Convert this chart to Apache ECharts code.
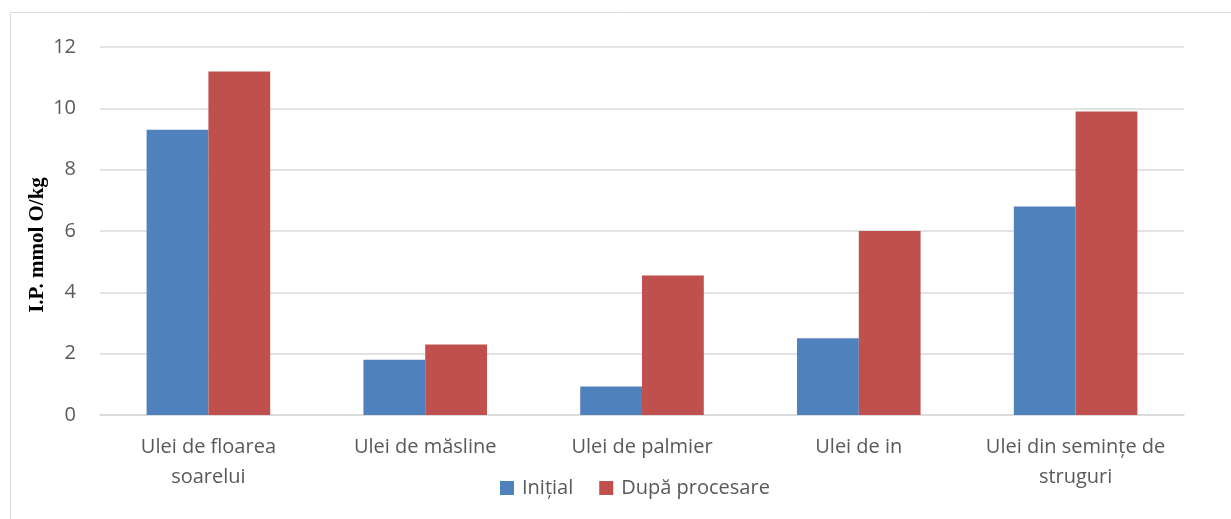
<!DOCTYPE html>
<html>
<head>
<meta charset="utf-8">
<script src="https://cdn.jsdelivr.net/npm/echarts@6/dist/echarts.min.js"></script>
<style>
  html, body { margin: 0; padding: 0; background: #fff; }
  #chart { width: 1231px; height: 519px; }
</style>
</head>
<body>
<div id="chart"></div>
<script>
// Peroxide index of oils, before and after processing
const categories = [
  'Ulei de floarea\nsoarelui',
  'Ulei de măsline',
  'Ulei de palmier',
  'Ulei de in',
  'Ulei din semințe de\nstruguri'
];
const initial = [9.3, 1.8, 0.93, 2.5, 6.8];
const afterProcessing = [11.2, 2.3, 4.55, 6.0, 9.9];
const seriesNames = ['Inițial', 'După procesare'];
const yAxisTitle = 'I.P. mmol O/kg';
const yTicks = { min: 0, max: 12, interval: 2 };

const textFont = '"Open Sans", "Noto Sans", sans-serif';

const chart = echarts.init(document.getElementById('chart'), null, { renderer: 'canvas' });
chart.setOption({
  animation: false,
  backgroundColor: '#ffffff',
  graphic: [
    {
      type: 'rect',
      shape: { x: 10.5, y: 12.5, width: 1300, height: 600 },
      style: { fill: 'none', stroke: '#d9d9d9', lineWidth: 1 },
      silent: true
    },
    {
      // vertical axis title, rotated
      type: 'text',
      x: 38,
      y: 245,
      rotation: Math.PI / 2,
      style: {
        text: yAxisTitle,
        fill: '#000000',
        font: 'bold 21px "Liberation Serif", "DejaVu Serif", serif',
        align: 'center',
        verticalAlign: 'middle'
      },
      silent: true
    }
  ],
  grid: { left: 100, right: 47, top: 47, bottom: 104 },
  legend: {
    data: seriesNames,
    bottom: 16,
    left: 495,
    itemWidth: 14,
    itemHeight: 14,
    itemGap: 26,
    icon: 'rect',
    textStyle: { color: '#595959', fontSize: 20, fontFamily: textFont, padding: [0, 0, 0, 3] }
  },
  xAxis: {
    type: 'category',
    data: categories,
    axisLine: { show: true, lineStyle: { color: '#d9d9d9', width: 1.5 } },
    axisTick: { show: false },
    axisLabel: {
      color: '#595959',
      fontSize: 20,
      fontFamily: textFont,
      lineHeight: 30,
      margin: 17,
      interval: 0
    }
  },
  yAxis: {
    type: 'value',
    min: yTicks.min,
    max: yTicks.max,
    interval: yTicks.interval,
    axisLine: { show: false },
    axisTick: { show: false },
    axisLabel: { color: '#595959', fontSize: 20, fontFamily: textFont, margin: 24 },
    splitLine: { lineStyle: { color: '#d9d9d9', width: 1.5 } }
  },
  series: [
    {
      name: seriesNames[0],
      type: 'bar',
      data: initial,
      barGap: '0%',
      barCategoryGap: '43%',
      itemStyle: { color: '#4f81bd' }
    },
    {
      name: seriesNames[1],
      type: 'bar',
      data: afterProcessing,
      itemStyle: { color: '#c0504d' }
    }
  ]
});
</script>
</body>
</html>
